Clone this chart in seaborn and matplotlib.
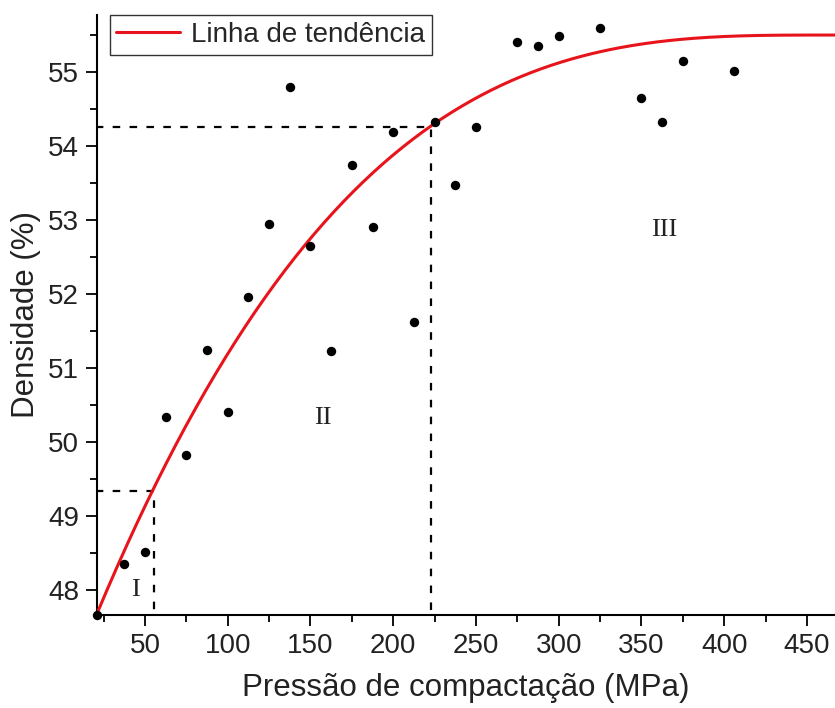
import numpy as np
import pandas as pd
import matplotlib
matplotlib.use("Agg")
import matplotlib.pyplot as plt
from matplotlib.ticker import MultipleLocator
import seaborn as sns

# Measured points (pressure MPa, density %)
pressao = [21, 37.5, 50, 62.5, 75, 87.5, 100, 112.5, 125, 137.5, 150, 162.5,
           175, 187.5, 200, 212.5, 225, 237.5, 250, 275, 287.5, 300, 325,
           350, 362.5, 375, 406]
densidade = [47.66, 48.35, 48.51, 50.34, 49.82, 51.24, 50.41, 51.96, 52.94,
             54.80, 52.65, 51.23, 53.74, 52.91, 54.19, 51.62, 54.33, 53.47,
             54.26, 55.41, 55.35, 55.48, 55.59, 54.65, 54.32, 55.15, 55.01]

# Trend line samples (smoothed with a cubic fit)
trend_x = [21, 54, 93.5, 119.6, 149, 174, 204, 222.4, 264.6, 325, 405, 467]
trend_y = [47.66, 49.28, 51.02, 51.96, 52.65, 53.31, 53.92, 54.26, 54.80,
           55.30, 55.51, 55.48]

# Region limits
lim1_x, lim1_y = 55.2, 49.33
lim2_x, lim2_y = 222.8, 54.26
region_labels = ["I", "II", "III"]
region_x = [44, 157.7, 364]
region_y = [48.0, 50.32, 52.86]

sns.set_style("ticks")
plt.rcParams['font.family'] = ['Liberation Sans', 'DejaVu Sans']

fig = plt.figure(figsize=(8.35, 7.08), dpi=100)
ax = fig.add_axes([97/835, 93/708, 1 - 97/835, 600/708])

coef = np.polyfit(trend_x, trend_y, 3)
xs = np.linspace(min(trend_x), max(trend_x), 300)
df_trend = pd.DataFrame({"x": xs, "y": np.polyval(coef, xs)})
df_pts = pd.DataFrame({"x": pressao, "y": densidade})

# dashed region lines
dash = (0, (3.4, 4.2))
ax.plot([0, lim1_x, lim1_x], [lim1_y, lim1_y, 0], ls=dash, color="black", lw=1.6, zorder=2)
ax.plot([0, lim2_x, lim2_x], [lim2_y, lim2_y, 0], ls=dash, color="black", lw=1.6, zorder=2)

sns.scatterplot(data=df_pts, x="x", y="y", ax=ax, color="black", s=46,
                edgecolor="black", linewidth=0, zorder=4, clip_on=False, legend=False)
sns.lineplot(data=df_trend, x="x", y="y", ax=ax, color="#e8141b", lw=2.2,
             label="Linha de tendência", zorder=3)

for lab, rx, ry in zip(region_labels, region_x, region_y):
    ax.text(rx, ry, lab, family="Liberation Serif", fontsize=19,
            ha="center", va="center", color="#222222")

ax.set_xlim(21, 467)
ax.set_ylim(47.66, 55.77)
ax.xaxis.set_major_locator(MultipleLocator(50))
ax.xaxis.set_minor_locator(MultipleLocator(25))
ax.yaxis.set_major_locator(MultipleLocator(1))
ax.yaxis.set_minor_locator(MultipleLocator(0.5))
ax.tick_params(which="major", length=8, width=1.3, labelsize=20, color="black", labelcolor="#222222", pad=5)
ax.tick_params(which="minor", length=5, width=1.3, color="black")

for s in ["top", "right"]:
    ax.spines[s].set_visible(False)
for s in ["left", "bottom"]:
    ax.spines[s].set_linewidth(1.5)
    ax.spines[s].set_color("black")

ax.set_xlabel("Pressão de compactação (MPa)", fontsize=22.5, color="#222222", labelpad=10)
ax.set_ylabel("Densidade (%)", fontsize=22.5, color="#222222", labelpad=5)

leg = ax.legend(loc="upper left", bbox_to_anchor=(0.017, 1.0), fontsize=20,
                frameon=True, fancybox=False, framealpha=1, edgecolor="#333333",
                handlelength=2.3, borderpad=0.25, handletextpad=0.4, borderaxespad=0)
leg.get_frame().set_linewidth(1.0)

fig.savefig("out.png", dpi=100)
